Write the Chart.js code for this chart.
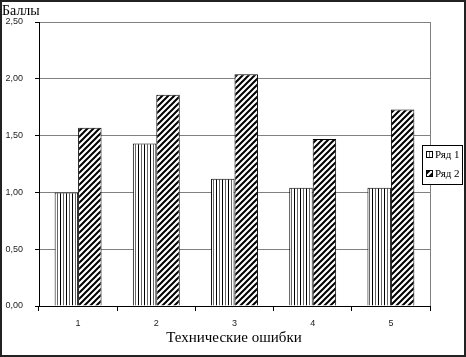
<!DOCTYPE html>
<html><head><meta charset="utf-8">
<script src="https://cdn.jsdelivr.net/npm/chart.js@4/dist/chart.umd.min.js"></script>
<style>html,body{margin:0;padding:0;background:#fff}#wrap{width:466px;height:357px;position:relative}</style>
</head><body><div id="wrap"><canvas id="c" width="466" height="357"></canvas></div>
<script>
const categories = ["1","2","3","4","5"];
const seriesNames = ["Ряд 1","Ряд 2"];
const series1 = [1.00,1.43,1.12,1.04,1.04];
const series2 = [1.57,1.86,2.04,1.47,1.73];
const yTitle = "Баллы";
const xTitle = "Технические ошибки";

function vertPattern(){
  const c=document.createElement('canvas');c.width=6;c.height=4;const g=c.getContext('2d');
  g.fillStyle='#fff';g.fillRect(0,0,6,4);g.fillStyle='#000';g.fillRect(0,0,1,4);
  g.fillStyle='#666';g.fillRect(3,0,1,4);
  return g.createPattern(c,'repeat');
}
function diagPattern(){
  const s=6;const c=document.createElement('canvas');c.width=s;c.height=s;const g=c.getContext('2d');
  g.fillStyle='#fff';g.fillRect(0,0,s,s);g.strokeStyle='#000';g.lineWidth=2;
  g.beginPath();
  for(let k=-1;k<=1;k++){g.moveTo(k*s-1,s+1);g.lineTo(k*s+s+1,-1);}
  g.stroke();
  return g.createPattern(c,'repeat');
}
const pats=[vertPattern(),diagPattern()];

const deco={
  id:'deco',
  afterDraw(chart){
    const ctx=chart.ctx, a=chart.chartArea;
    ctx.save();
    ctx.strokeStyle='#808080';ctx.lineWidth=1;
    ctx.beginPath();ctx.moveTo(Math.round(a.right)+0.5,a.top);ctx.lineTo(Math.round(a.right)+0.5,a.bottom);ctx.stroke();
    ctx.fillStyle='#000';ctx.textBaseline='alphabetic';
    ctx.font='14px "Liberation Serif"';ctx.textAlign='left';
    ctx.fillText(yTitle,2,15);
    ctx.font='15px "Liberation Serif"';ctx.textAlign='center';
    ctx.fillText(xTitle,234,342);
    const lx=422.5, ly=145.5, lw=40, lh=39;
    ctx.fillStyle='#fff';ctx.fillRect(lx,ly,lw,lh);
    ctx.strokeStyle='#000';ctx.lineWidth=1;ctx.strokeRect(lx,ly,lw,lh);
    ctx.font='11px "Liberation Serif"';ctx.textAlign='left';ctx.textBaseline='middle';
    seriesNames.forEach((n,i)=>{
      const y=155+i*19;
      ctx.fillStyle=pats[i];ctx.fillRect(426,y-3.5,6,6);
      ctx.strokeStyle='#000';ctx.strokeRect(426.5,y-3.5,6,6);
      ctx.fillStyle='#000';ctx.fillText(n,435,y+0.5);
    });
    ctx.strokeStyle='#222';ctx.lineWidth=2;ctx.strokeRect(1,1,464,355);
    ctx.restore();
  }
};

new Chart(document.getElementById('c'),{
  type:'bar',
  data:{labels:categories,datasets:[
    {label:seriesNames[0],data:series1,backgroundColor:pats[0],borderColor:'#000',borderWidth:1,categoryPercentage:0.6,barPercentage:1},
    {label:seriesNames[1],data:series2,backgroundColor:pats[1],borderColor:'#000',borderWidth:1,categoryPercentage:0.6,barPercentage:1}
  ]},
  options:{
    responsive:false,animation:false,devicePixelRatio:1,
    layout:{padding:{top:22,left:0,right:36,bottom:0}},
    plugins:{legend:{display:false},tooltip:{enabled:false}},
    scales:{
      x:{
        grid:{display:true,drawOnChartArea:false,drawTicks:true,tickLength:5,tickColor:'#000',offset:true},
        border:{color:'#000',width:1},
        ticks:{color:'#222',font:{family:'Liberation Sans',size:9},padding:7},
        afterFit(s){s.height=51;}
      },
      y:{
        min:0,max:2.5,
        grid:{color:'#808080',tickColor:'#000',tickLength:4},
        border:{color:'#000',width:1},
        ticks:{stepSize:0.5,color:'#222',font:{family:'Liberation Sans',size:9},padding:12,
          callback:v=>Number(v).toFixed(2).replace('.',',')},
        afterFit(s){s.width=39;}
      }
    }
  },
  plugins:[deco]
});
</script></body></html>
